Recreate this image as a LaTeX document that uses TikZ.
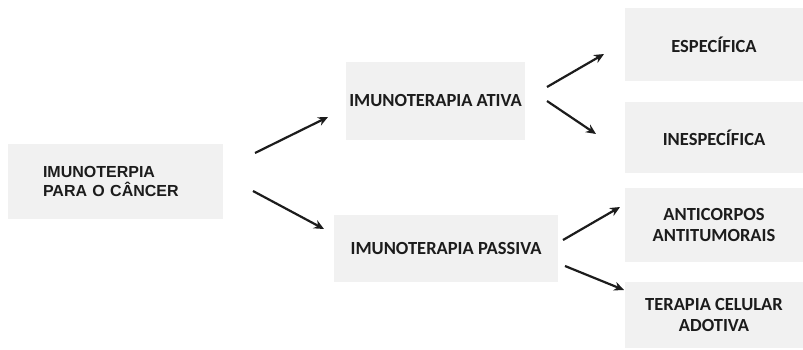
\documentclass[tikz,border=0pt]{standalone}
\usepackage{fontspec}
\usepackage{xcolor}
\usepackage{tikz}
\usetikzlibrary{arrows.meta}
\setmainfont{Carlito}
\newfontfamily\arialfont{Liberation Sans}
\definecolor{boxColor}{HTML}{F1F1F1}
\definecolor{inkColor}{HTML}{1C1C1C}

\begin{document}
\begin{tikzpicture}[x=1pt, y=-1pt,
    caixa/.style={fill=boxColor, draw=none, text=inkColor, font=\bfseries\fontsize{18.5}{21.5}\selectfont,
        align=center, inner sep=0pt},
    seta/.style={-{Stealth[length=10pt,width=9pt]}, line width=2.2pt, inkColor}]

    \useasboundingbox (0,0) rectangle (803,350);

    \node[caixa, minimum width=215pt, minimum height=75pt, text width=145pt, inner xsep=35pt,
        align=left, font=\arialfont\bfseries\fontsize{16}{19.5}\selectfont]
        (raiz) at (115.5,181.5) {IMUNOTERPIA\\PARA O CÂNCER};

    \node[caixa, minimum width=179pt, minimum height=78pt] (ativa) at (435.5,101) {IMUNOTERAPIA ATIVA};
    \node[caixa, minimum width=224pt, minimum height=67pt] (passiva) at (446,248.5) {IMUNOTERAPIA PASSIVA};

    \node[caixa, minimum width=178pt, minimum height=73pt] (especifica) at (714,44.5) {ESPECÍFICA};
    \node[caixa, minimum width=178pt, minimum height=71pt] (inespecifica) at (714,137.5) {INESPECÍFICA};
    \node[caixa, minimum width=178pt, minimum height=74pt] (anticorpos) at (714,225) {ANTICORPOS\\ANTITUMORAIS};
    \node[caixa, minimum width=178pt, minimum height=66pt] (adotiva) at (714,315) {TERAPIA CELULAR\\ADOTIVA};

    % pontas livres das setas
    \coordinate (r1) at (255,153);   \coordinate (a1) at (328,117);
    \coordinate (r2) at (253,191);   \coordinate (p1) at (324,229);
    \coordinate (a2) at (547,87);    \coordinate (e1) at (604,54);
    \coordinate (a3) at (547,101);   \coordinate (i1) at (596,134);
    \coordinate (p2) at (563,240);   \coordinate (c1) at (620,207);
    \coordinate (p3) at (565,266);   \coordinate (t1) at (624,290);

    \draw[seta] (r1) -- (a1);
    \draw[seta] (r2) -- (p1);
    \draw[seta] (a2) -- (e1);
    \draw[seta] (a3) -- (i1);
    \draw[seta] (p2) -- (c1);
    \draw[seta] (p3) -- (t1);
\end{tikzpicture}
\end{document}
